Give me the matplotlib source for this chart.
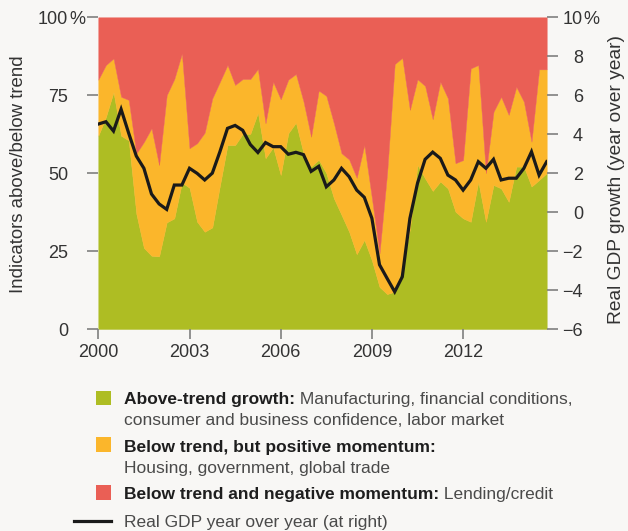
import matplotlib
matplotlib.use("Agg")
import matplotlib.pyplot as plt
from matplotlib.patches import Rectangle
from matplotlib.lines import Line2D
import numpy as np

# ---------------- data (quarterly, 2000Q1 .. 2014Q4) ----------------
years = 2000 + np.arange(60) * 0.25

above_trend = [62, 68, 76, 62, 60.5, 37, 26, 23.5, 23.3, 34.2,
               35.5, 47, 45.3, 34.4, 31.2, 32.6, 46, 59, 59, 62.6,
               62.6, 69.4, 54.8, 58.3, 49.4, 62.8, 66.2, 56.4, 52.1, 54.3,
               50, 41.9, 36.6, 31.2, 24, 28.6, 22, 13.5, 11.2, 12,
               20, 32, 52.6, 48.3, 44.3, 47.3, 45.1, 37.6, 35.5, 34.4,
               47.3, 34.4, 46.2, 45.1, 40.8, 52.1, 52.1, 45.7, 47.8, 50]

positive_top = [80, 84.7, 86.8, 74.5, 73.5, 56.3, 60, 64.4, 52.6, 75,
                80.2, 88.4, 58, 59.6, 63, 74, 79.3, 84.7, 78.3, 80.2,
                80.2, 83.4, 66, 79.3, 73.7, 80, 81.8, 73, 61.7, 76.5,
                74.8, 66, 56.4, 54.4, 48.5, 59, 42, 24.3, 50, 85,
                87, 70.3, 80.1, 78, 67.3, 79.3, 74, 53.2, 54.2, 83.6,
                84.7, 50, 69.7, 74.5, 68.7, 77.7, 72.9, 60.1, 83.3, 83.3]

gdp = [4.52, 4.64, 4.16, 5.28, 4.05, 2.88, 2.25, 0.93, 0.42, 0.14,
       1.39, 1.39, 2.25, 1.99, 1.65, 2.0, 3.1, 4.3, 4.45, 4.2,
       3.47, 3.06, 3.57, 3.36, 3.36, 2.97, 3.07, 2.95, 2.09, 2.35,
       1.3, 1.65, 2.25, 1.82, 1.13, 0.76, -0.32, -2.7, -3.4, -4.09,
       -3.32, -0.32, 1.48, 2.71, 3.08, 2.76, 1.9, 1.65, 1.13, 1.65,
       2.59, 2.25, 2.71, 1.65, 1.74, 1.74, 2.25, 3.1, 1.9, 2.59]

x_ticks = [2000, 2003, 2006, 2009, 2012]
left_ticks = [0, 25, 50, 75, 100]
left_labels = ["0", "25", "50", "75", "100"]
right_ticks = [-6, -4, -2, 0, 2, 4, 6, 8, 10]
right_labels = ["\u22126", "\u22124", "\u22122", "0", "2", "4", "6", "8", "10"]

legend_items = [
    ("Above-trend growth:", " Manufacturing, financial conditions,",
     "consumer and business confidence, labor market"),
    ("Below trend, but positive momentum:", "",
     "Housing, government, global trade"),
    ("Below trend and negative momentum:", " Lending/credit", None),
]
line_label = "Real GDP year over year (at right)"

# ---------------- style ----------------
GREEN = "#aebd23"
ORANGE = "#fbb62b"
RED = "#ea5f55"
BG = "#f8f7f5"
TICKC = "#7f7f7f"
TXT = "#333333"
BOLDC = "#1e1e1e"
REGC = "#4a4a4a"

plt.rcParams["font.family"] = ["Liberation Sans", "DejaVu Sans"]

W, H = 628, 531
fig = plt.figure(figsize=(W / 100, H / 100), dpi=100, facecolor=BG)


def fx(px):
    return px / W


def fy(py):
    return 1 - py / H


ax = fig.add_axes([fx(98.3), fy(329), fx(546.7) - fx(98.3), fy(17.3) - fy(329)])
ax.set_facecolor(BG)

ax.fill_between(years, 0, above_trend, color=GREEN, lw=0.3, edgecolor=GREEN)
ax.fill_between(years, above_trend, positive_top, color=ORANGE, lw=0.3, edgecolor=ORANGE)
ax.fill_between(years, positive_top, 100, color=RED, lw=0.3, edgecolor=RED)

ax.set_xlim(2000, 2014.75)
ax.set_ylim(0, 100)
for s in ax.spines.values():
    s.set_visible(False)

ax.set_xticks(x_ticks)
ax.set_xticklabels([str(t) for t in x_ticks])
ax.set_yticks(left_ticks)
ax.set_yticklabels(left_labels)
ax.tick_params(axis="x", length=7.5, width=1.2, color=TICKC, pad=3,
               labelsize=13, labelcolor=TXT)
ax.tick_params(axis="y", length=8.1, width=1.2, color=TICKC, pad=13.5,
               labelsize=13, labelcolor=TXT)
ax.annotate("%", xy=(0, 100), xycoords=("axes fraction", "data"),
            xytext=(-9.6, 0), textcoords="offset points", ha="right",
            va="center_baseline", fontsize=13, color=TXT, annotation_clip=False)

ax2 = ax.twinx()
ax2.plot(years, gdp, color="#1a1a1a", lw=2.3, solid_joinstyle="miter")
ax2.set_ylim(-6, 10)
ax2.set_xlim(2000, 2014.75)
for s in ax2.spines.values():
    s.set_visible(False)
ax2.set_yticks(right_ticks)
ax2.set_yticklabels(right_labels)
ax2.tick_params(axis="y", length=8, width=1.2, color=TICKC, pad=18.1,
                labelsize=13, labelcolor=TXT)
for lbl in ax2.get_yticklabels():
    lbl.set_horizontalalignment("right")
ax2.annotate("%", xy=(1, 10), xycoords=("axes fraction", "data"),
             xytext=(26.1, 0), textcoords="offset points", ha="left",
             va="center_baseline", fontsize=13, color=TXT, annotation_clip=False)

# axis titles
fig.text(fx(10), fy(174.5), "Indicators above/below trend", rotation=90,
         ha="left", va="center", fontsize=13.4, color=TXT)
fig.text(fx(608), fy(323.5), "Real GDP growth (year over year)", rotation=90,
         ha="left", va="bottom", fontsize=13.8, color=TXT)

# ---------------- legend ----------------
sq_tops = [390.7, 437, 485.3]
baselines = [(404.3, 425.3), (452.3, 473.3), (499.3, None)]
colors = [GREEN, ORANGE, RED]
for (bold, reg, line2), top, (b1, b2), c in zip(legend_items, sq_tops, baselines, colors):
    fig.patches.append(Rectangle((fx(96), fy(top + 14.5)), fx(110.7) - fx(96),
                                 fy(top) - fy(top + 14.5), transform=fig.transFigure,
                                 facecolor=c, edgecolor="none"))
    t = fig.text(fx(124), fy(b1), bold, fontsize=12.5, fontweight="bold",
                 color=BOLDC, ha="left", va="baseline")
    if reg:
        ax.annotate(reg, xy=(1, 0), xycoords=t, xytext=(0, 0),
                    textcoords="offset points", ha="left", va="bottom",
                    fontsize=12.5, color=REGC, annotation_clip=False)
    if line2 and b2:
        fig.text(fx(124), fy(b2), line2, fontsize=12.5, color=REGC,
                 ha="left", va="baseline")

fig.lines.append(Line2D([fx(74), fx(110.7)], [fy(520.7), fy(520.7)],
                        transform=fig.transFigure, color="#1a1a1a", lw=2.3))
fig.text(fx(124), fy(526.5), line_label, fontsize=12.5, color=REGC,
         ha="left", va="baseline")

fig.savefig("out.png", dpi=100, facecolor=BG)
